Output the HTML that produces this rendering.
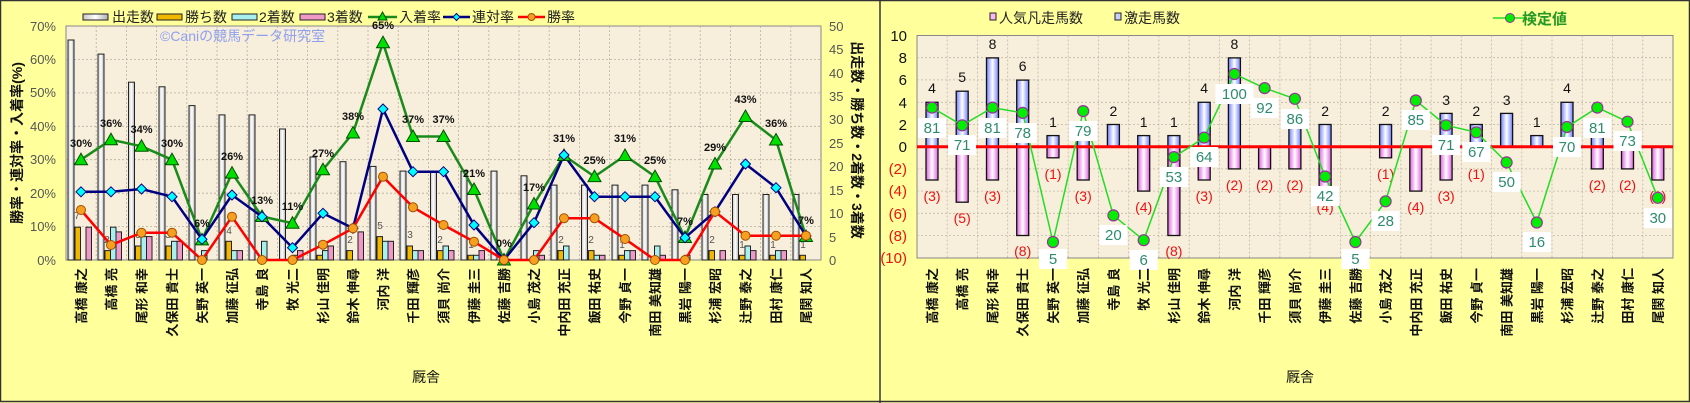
<!DOCTYPE html>
<html><head><meta charset="utf-8"><style>
html,body{margin:0;padding:0;background:#ffff9c;}
svg{display:block;font-family:"Liberation Sans","Noto Sans CJK JP",sans-serif;}
</style></head><body>
<svg width="1690" height="403" viewBox="0 0 1690 403" xmlns="http://www.w3.org/2000/svg">
<defs>
<linearGradient id="gw" x1="0" x2="1"><stop offset="0" stop-color="#c8c8c8"/><stop offset="0.5" stop-color="#ffffff"/><stop offset="1" stop-color="#b0b0b0"/></linearGradient>
<linearGradient id="gb" x1="0" x2="1"><stop offset="0" stop-color="#7080ff"/><stop offset="0.5" stop-color="#ffffff"/><stop offset="1" stop-color="#7080ff"/></linearGradient>
<linearGradient id="gp" x1="0" x2="1"><stop offset="0" stop-color="#e060e0"/><stop offset="0.5" stop-color="#ffffff"/><stop offset="1" stop-color="#e060e0"/></linearGradient>
<path id="tri" d="M0,-6.5 L6.5,5 L-6.5,5 Z" fill="#00e000" stroke="#005000" stroke-width="1"/>
<path id="dia" d="M0,-5 L5,0 L0,5 L-5,0 Z" fill="#00ffff" stroke="#000080" stroke-width="1"/>
<circle id="cir" r="4.5" fill="#f7a020" stroke="#a05000" stroke-width="1"/>
<circle id="gdot" r="5.5" fill="#00ee00" stroke="#993399" stroke-width="1.2"/>
</defs>
<rect x="0.5" y="0.5" width="1689" height="401" fill="#ffff9c" stroke="#333" stroke-width="1.5"/>
<line x1="880" y1="0" x2="880" y2="403" stroke="#333" stroke-width="1.5"/>

<!-- LEFT CHART -->
<rect x="66" y="26" width="755" height="234" fill="#f7eedb" stroke="#888" stroke-width="1"/>
<g stroke="#b8b0a0" stroke-width="0.8" stroke-dasharray="2,2">
<line x1="66" y1="226.6" x2="821" y2="226.6"/><line x1="66" y1="193.2" x2="821" y2="193.2"/><line x1="66" y1="159.7" x2="821" y2="159.7"/><line x1="66" y1="126.3" x2="821" y2="126.3"/><line x1="66" y1="92.9" x2="821" y2="92.9"/><line x1="66" y1="59.4" x2="821" y2="59.4"/>
<line x1="96.2" y1="26" x2="96.2" y2="260"/><line x1="126.4" y1="26" x2="126.4" y2="260"/><line x1="156.6" y1="26" x2="156.6" y2="260"/><line x1="186.8" y1="26" x2="186.8" y2="260"/><line x1="217" y1="26" x2="217" y2="260"/><line x1="247.2" y1="26" x2="247.2" y2="260"/><line x1="277.4" y1="26" x2="277.4" y2="260"/><line x1="307.6" y1="26" x2="307.6" y2="260"/><line x1="337.8" y1="26" x2="337.8" y2="260"/><line x1="368" y1="26" x2="368" y2="260"/><line x1="398.2" y1="26" x2="398.2" y2="260"/><line x1="428.4" y1="26" x2="428.4" y2="260"/><line x1="458.6" y1="26" x2="458.6" y2="260"/><line x1="488.8" y1="26" x2="488.8" y2="260"/><line x1="519" y1="26" x2="519" y2="260"/><line x1="549.2" y1="26" x2="549.2" y2="260"/><line x1="579.4" y1="26" x2="579.4" y2="260"/><line x1="609.6" y1="26" x2="609.6" y2="260"/><line x1="639.8" y1="26" x2="639.8" y2="260"/><line x1="670" y1="26" x2="670" y2="260"/><line x1="700.2" y1="26" x2="700.2" y2="260"/><line x1="730.4" y1="26" x2="730.4" y2="260"/><line x1="760.6" y1="26" x2="760.6" y2="260"/><line x1="790.8" y1="26" x2="790.8" y2="260"/>
</g>
<text x="160" y="41" font-size="14" fill="#8fa0f0">©Caniの競馬データ研究室</text>

<g stroke="#222" stroke-width="1">
<!-- white bars -->
<g fill="url(#gw)">
<rect x="68" y="40" width="6" height="220"/><rect x="98" y="54.1" width="6" height="205.9"/><rect x="128.5" y="82.2" width="6" height="177.8"/><rect x="159" y="86.8" width="6" height="173.2"/><rect x="189" y="105.6" width="6" height="154.4"/><rect x="219" y="114.9" width="6" height="145.1"/><rect x="249" y="114.9" width="6" height="145.1"/><rect x="279.5" y="129" width="6" height="131"/><rect x="310" y="157" width="6" height="103"/><rect x="340" y="161.7" width="6" height="98.3"/><rect x="370" y="166.4" width="6" height="93.6"/><rect x="400" y="171.1" width="6" height="88.9"/><rect x="430.5" y="171.1" width="6" height="88.9"/><rect x="461" y="171.1" width="6" height="88.9"/><rect x="491" y="171.1" width="6" height="88.9"/><rect x="521" y="175.8" width="6" height="84.2"/><rect x="551" y="185.1" width="6" height="74.9"/><rect x="581.5" y="185.1" width="6" height="74.9"/><rect x="612" y="185.1" width="6" height="74.9"/><rect x="642" y="185.1" width="6" height="74.9"/><rect x="672" y="189.8" width="6" height="70.2"/><rect x="702" y="194.5" width="6" height="65.5"/><rect x="732.5" y="194.5" width="6" height="65.5"/><rect x="763" y="194.5" width="6" height="65.5"/><rect x="793" y="194.5" width="6" height="65.5"/>
</g>
<!-- gold -->
<g fill="#f0b800">
<rect x="75" y="227.2" width="5.5" height="32.8"/><rect x="105" y="250.6" width="5.5" height="9.4"/><rect x="135.5" y="246" width="5.5" height="14"/><rect x="166" y="246" width="5.5" height="14"/><rect x="226" y="241.3" width="5.5" height="18.7"/><rect x="317" y="255.3" width="5.5" height="4.7"/><rect x="347" y="250.6" width="5.5" height="9.4"/><rect x="377" y="236.6" width="5.5" height="23.4"/><rect x="407" y="246" width="5.5" height="14"/><rect x="437.5" y="250.6" width="5.5" height="9.4"/><rect x="468" y="255.3" width="5.5" height="4.7"/><rect x="558" y="250.6" width="5.5" height="9.4"/><rect x="588.5" y="250.6" width="5.5" height="9.4"/><rect x="619" y="255.3" width="5.5" height="4.7"/><rect x="709" y="250.6" width="5.5" height="9.4"/><rect x="739.5" y="255.3" width="5.5" height="4.7"/><rect x="770" y="255.3" width="5.5" height="4.7"/><rect x="800" y="255.3" width="5.5" height="4.7"/>
</g>
<!-- cyan -->
<g fill="#a8f0f0">
<rect x="110.5" y="227.2" width="5.5" height="32.8"/><rect x="141" y="236.6" width="5.5" height="23.4"/><rect x="171.5" y="241.3" width="5.5" height="18.7"/><rect x="201.5" y="250.6" width="5.5" height="9.4"/><rect x="231.5" y="250.6" width="5.5" height="9.4"/><rect x="261.5" y="241.3" width="5.5" height="18.7"/><rect x="292" y="255.3" width="5.5" height="4.7"/><rect x="322.5" y="250.6" width="5.5" height="9.4"/><rect x="382.5" y="241.3" width="5.5" height="18.7"/><rect x="412.5" y="250.6" width="5.5" height="9.4"/><rect x="443" y="246" width="5.5" height="14"/><rect x="473.5" y="255.3" width="5.5" height="4.7"/><rect x="533.5" y="250.6" width="5.5" height="9.4"/><rect x="563.5" y="246" width="5.5" height="14"/><rect x="594" y="255.3" width="5.5" height="4.7"/><rect x="624.5" y="250.6" width="5.5" height="9.4"/><rect x="654.5" y="246" width="5.5" height="14"/><rect x="684.5" y="255.3" width="5.5" height="4.7"/><rect x="745" y="246" width="5.5" height="14"/><rect x="775.5" y="250.6" width="5.5" height="9.4"/>
</g>
<!-- pink -->
<g fill="#f098c8">
<rect x="86" y="227.2" width="5.5" height="32.8"/><rect x="116" y="231.9" width="5.5" height="28.1"/><rect x="146.5" y="236.6" width="5.5" height="23.4"/><rect x="177" y="241.3" width="5.5" height="18.7"/><rect x="237" y="250.6" width="5.5" height="9.4"/><rect x="297.5" y="250.6" width="5.5" height="9.4"/><rect x="328" y="246" width="5.5" height="14"/><rect x="358" y="231.9" width="5.5" height="28.1"/><rect x="388" y="241.3" width="5.5" height="18.7"/><rect x="418" y="250.6" width="5.5" height="9.4"/><rect x="448.5" y="250.6" width="5.5" height="9.4"/><rect x="479" y="250.6" width="5.5" height="9.4"/><rect x="539" y="255.3" width="5.5" height="4.7"/><rect x="599.5" y="255.3" width="5.5" height="4.7"/><rect x="630" y="250.6" width="5.5" height="9.4"/><rect x="660" y="255.3" width="5.5" height="4.7"/><rect x="720" y="250.6" width="5.5" height="9.4"/><rect x="750.5" y="250.6" width="5.5" height="9.4"/><rect x="781" y="250.6" width="5.5" height="9.4"/>
</g>
</g>
<g font-size="10" fill="#555" text-anchor="middle">
<text x="77" y="219">7</text><text x="107" y="243">2</text><text x="138" y="238">3</text><text x="168" y="238">3</text><text x="229" y="234">4</text><text x="320" y="248">1</text><text x="350" y="243">2</text><text x="380" y="229">5</text><text x="410" y="238">3</text><text x="440" y="243">2</text><text x="471" y="248">1</text><text x="561" y="243">2</text><text x="591" y="243">2</text><text x="622" y="248">1</text><text x="712" y="243">2</text><text x="742" y="248">1</text><text x="773" y="248">1</text><text x="803" y="248">1</text>
</g>

<!-- lines -->
<polyline fill="none" stroke="#1a8a1a" stroke-width="2.5" points="81,159.7 111,139.7 141.5,146.3 172,159.7 202,239.9 232,173.1 262,216.5 292.5,223.2 323,169.7 353,133 383,42.7 413,136.5 443.5,136.5 474,189.5 504,260 534,204 564,155.5 594.5,176.6 625,155.5 655,176.6 685,237.5 715,164 745.5,116.5 776,140 806,236.5"/>
<polyline fill="none" stroke="#000080" stroke-width="2.5" points="81,191.8 111,191.8 141.5,189 172,196.7 202,239.3 232,195 262,216.7 292.5,247.7 323,213.3 353,228.3 383,109 413,171.7 443.5,171.7 474,225 504,260 534,222.7 564,155 594.5,196.7 625,196.7 655,196.7 685,237.7 715,211.7 745.5,164 776,187.7 806,236"/>
<polyline fill="none" stroke="#ff0000" stroke-width="2.5" points="81,210 111,245 141.5,232.7 172,232.7 202,260 232,216.7 262,260 292.5,260 323,244.7 353,228.3 383,176.7 413,207.3 443.5,225 474,241.7 504,260 534,260 564,218.3 594.5,218.3 625,239 655,260 685,260 715,211.7 745.5,235.7 776,235.7 806,235.7"/>
<g>
<use href="#tri" x="81" y="159.7"/><use href="#tri" x="111" y="139.7"/><use href="#tri" x="141.5" y="146.3"/><use href="#tri" x="172" y="159.7"/><use href="#tri" x="202" y="239.9"/><use href="#tri" x="232" y="173.1"/><use href="#tri" x="262" y="216.5"/><use href="#tri" x="292.5" y="223.2"/><use href="#tri" x="323" y="169.7"/><use href="#tri" x="353" y="133"/><use href="#tri" x="383" y="42.7"/><use href="#tri" x="413" y="136.5"/><use href="#tri" x="443.5" y="136.5"/><use href="#tri" x="474" y="189.5"/><use href="#tri" x="504" y="260"/><use href="#tri" x="534" y="204"/><use href="#tri" x="564" y="155.5"/><use href="#tri" x="594.5" y="176.6"/><use href="#tri" x="625" y="155.5"/><use href="#tri" x="655" y="176.6"/><use href="#tri" x="685" y="237.5"/><use href="#tri" x="715" y="164"/><use href="#tri" x="745.5" y="116.5"/><use href="#tri" x="776" y="140"/><use href="#tri" x="806" y="236.5"/>
<use href="#dia" x="81" y="191.8"/><use href="#dia" x="111" y="191.8"/><use href="#dia" x="141.5" y="189"/><use href="#dia" x="172" y="196.7"/><use href="#dia" x="202" y="239.3"/><use href="#dia" x="232" y="195"/><use href="#dia" x="262" y="216.7"/><use href="#dia" x="292.5" y="247.7"/><use href="#dia" x="323" y="213.3"/><use href="#dia" x="353" y="228.3"/><use href="#dia" x="383" y="109"/><use href="#dia" x="413" y="171.7"/><use href="#dia" x="443.5" y="171.7"/><use href="#dia" x="474" y="225"/><use href="#dia" x="504" y="260"/><use href="#dia" x="534" y="222.7"/><use href="#dia" x="564" y="155"/><use href="#dia" x="594.5" y="196.7"/><use href="#dia" x="625" y="196.7"/><use href="#dia" x="655" y="196.7"/><use href="#dia" x="685" y="237.7"/><use href="#dia" x="715" y="211.7"/><use href="#dia" x="745.5" y="164"/><use href="#dia" x="776" y="187.7"/><use href="#dia" x="806" y="236"/>
<use href="#cir" x="81" y="210"/><use href="#cir" x="111" y="245"/><use href="#cir" x="141.5" y="232.7"/><use href="#cir" x="172" y="232.7"/><use href="#cir" x="202" y="260"/><use href="#cir" x="232" y="216.7"/><use href="#cir" x="262" y="260"/><use href="#cir" x="292.5" y="260"/><use href="#cir" x="323" y="244.7"/><use href="#cir" x="353" y="228.3"/><use href="#cir" x="383" y="176.7"/><use href="#cir" x="413" y="207.3"/><use href="#cir" x="443.5" y="225"/><use href="#cir" x="474" y="241.7"/><use href="#cir" x="504" y="260"/><use href="#cir" x="534" y="260"/><use href="#cir" x="564" y="218.3"/><use href="#cir" x="594.5" y="218.3"/><use href="#cir" x="625" y="239"/><use href="#cir" x="655" y="260"/><use href="#cir" x="685" y="260"/><use href="#cir" x="715" y="211.7"/><use href="#cir" x="745.5" y="235.7"/><use href="#cir" x="776" y="235.7"/><use href="#cir" x="806" y="235.7"/>
</g>
<g font-size="11" font-weight="bold" fill="#111" text-anchor="middle">
<text x="81" y="147">30%</text><text x="111" y="127">36%</text><text x="141.5" y="133">34%</text><text x="172" y="147">30%</text><text x="202" y="227">6%</text><text x="232" y="160">26%</text><text x="262" y="204">13%</text><text x="292.5" y="210">11%</text><text x="323" y="157">27%</text><text x="353" y="120">38%</text><text x="383" y="29">65%</text><text x="413" y="123">37%</text><text x="443.5" y="123">37%</text><text x="474" y="177">21%</text><text x="504" y="247">0%</text><text x="534" y="191">17%</text><text x="564" y="142">31%</text><text x="594.5" y="164">25%</text><text x="625" y="142">31%</text><text x="655" y="164">25%</text><text x="685" y="225">7%</text><text x="715" y="151">29%</text><text x="745.5" y="103">43%</text><text x="776" y="127">36%</text><text x="806" y="224">7%</text>
</g>
<!-- left axis -->
<g font-size="13" fill="#555" text-anchor="end">
<text x="56" y="265">0%</text><text x="56" y="231">10%</text><text x="56" y="198">20%</text><text x="56" y="164">30%</text><text x="56" y="131">40%</text><text x="56" y="97">50%</text><text x="56" y="64">60%</text><text x="56" y="31">70%</text>
</g>
<g font-size="13" fill="#555" text-anchor="start">
<text x="829" y="265">0</text><text x="829" y="242">5</text><text x="829" y="218">10</text><text x="829" y="195">15</text><text x="829" y="171">20</text><text x="829" y="148">25</text><text x="829" y="124">30</text><text x="829" y="101">35</text><text x="829" y="78">40</text><text x="829" y="54">45</text><text x="829" y="31">50</text>
</g>
<text transform="translate(22,143) rotate(-90)" font-size="14" font-weight="bold" fill="#111" text-anchor="middle">勝率・連対率・入着率(%)</text>
<text transform="translate(852,140) rotate(90)" font-size="14" font-weight="bold" fill="#111" text-anchor="middle">出走数・勝ち数・2着数・3着数</text>
<text x="412" y="382" font-size="14" fill="#111">厩舎</text>
<!-- left legend -->
<g font-size="14" fill="#222">
<rect x="83" y="14" width="25" height="6" fill="url(#gw)" stroke="#222"/><text x="112" y="22">出走数</text>
<rect x="157" y="14" width="25" height="6" fill="#f0b800" stroke="#222"/><text x="185" y="22">勝ち数</text>
<rect x="232" y="14" width="25" height="6" fill="#a8f0f0" stroke="#222"/><text x="259" y="22">2着数</text>
<rect x="300" y="14" width="25" height="6" fill="#f098c8" stroke="#222"/><text x="327" y="22">3着数</text>
<line x1="368" y1="17" x2="397" y2="17" stroke="#1a8a1a" stroke-width="2.5"/><path d="M382.5,12 L387,20 L378,20 Z" fill="#00e000" stroke="#005000"/><text x="399" y="22">入着率</text>
<line x1="443" y1="17" x2="470" y2="17" stroke="#000080" stroke-width="2.5"/><path d="M456.5,13.5 L460,17 L456.5,20.5 L453,17 Z" fill="#00ffff" stroke="#000080"/><text x="472" y="22">連対率</text>
<line x1="518" y1="17" x2="545" y2="17" stroke="#ff0000" stroke-width="2.5"/><circle cx="531.5" cy="17" r="3.5" fill="#f7a020" stroke="#a05000"/><text x="547" y="22">勝率</text>
</g>
<g font-size="13" font-weight="bold" fill="#111" text-anchor="end">
<text transform="translate(81,268) rotate(-90)" dy="5">高橋 康之</text><text transform="translate(111,268) rotate(-90)" dy="5">高橋 亮</text><text transform="translate(141.5,268) rotate(-90)" dy="5">尾形 和幸</text><text transform="translate(172,268) rotate(-90)" dy="5">久保田 貴士</text><text transform="translate(202,268) rotate(-90)" dy="5">矢野 英一</text><text transform="translate(232,268) rotate(-90)" dy="5">加藤 征弘</text><text transform="translate(262,268) rotate(-90)" dy="5">寺島 良</text><text transform="translate(292.5,268) rotate(-90)" dy="5">牧 光二</text><text transform="translate(323,268) rotate(-90)" dy="5">杉山 佳明</text><text transform="translate(353,268) rotate(-90)" dy="5">鈴木 伸尋</text><text transform="translate(383,268) rotate(-90)" dy="5">河内 洋</text><text transform="translate(413,268) rotate(-90)" dy="5">千田 輝彦</text><text transform="translate(443.5,268) rotate(-90)" dy="5">須貝 尚介</text><text transform="translate(474,268) rotate(-90)" dy="5">伊藤 圭三</text><text transform="translate(504,268) rotate(-90)" dy="5">佐藤 吉勝</text><text transform="translate(534,268) rotate(-90)" dy="5">小島 茂之</text><text transform="translate(564,268) rotate(-90)" dy="5">中内田 充正</text><text transform="translate(594.5,268) rotate(-90)" dy="5">飯田 祐史</text><text transform="translate(625,268) rotate(-90)" dy="5">今野 貞一</text><text transform="translate(655,268) rotate(-90)" dy="5">南田 美知雄</text><text transform="translate(685,268) rotate(-90)" dy="5">黒岩 陽一</text><text transform="translate(715,268) rotate(-90)" dy="5">杉浦 宏昭</text><text transform="translate(745.5,268) rotate(-90)" dy="5">辻野 泰之</text><text transform="translate(776,268) rotate(-90)" dy="5">田村 康仁</text><text transform="translate(806,268) rotate(-90)" dy="5">尾関 知人</text>
</g>

<!-- RIGHT CHART -->
<rect x="917" y="35.5" width="756" height="222.5" fill="#f7eedb" stroke="#888" stroke-width="1"/>
<g stroke="#c0b8a8" stroke-width="0.8" stroke-dasharray="2,2">
<line x1="917" y1="57.7" x2="1673" y2="57.7"/><line x1="917" y1="79.9" x2="1673" y2="79.9"/><line x1="917" y1="102.3" x2="1673" y2="102.3"/><line x1="917" y1="124.5" x2="1673" y2="124.5"/><line x1="917" y1="168.9" x2="1673" y2="168.9"/><line x1="917" y1="191.1" x2="1673" y2="191.1"/><line x1="917" y1="213.3" x2="1673" y2="213.3"/><line x1="917" y1="235.5" x2="1673" y2="235.5"/>
<line x1="947.2" y1="35.5" x2="947.2" y2="258"/><line x1="977.5" y1="35.5" x2="977.5" y2="258"/><line x1="1007.7" y1="35.5" x2="1007.7" y2="258"/><line x1="1038" y1="35.5" x2="1038" y2="258"/><line x1="1068.2" y1="35.5" x2="1068.2" y2="258"/><line x1="1098.4" y1="35.5" x2="1098.4" y2="258"/><line x1="1128.7" y1="35.5" x2="1128.7" y2="258"/><line x1="1158.9" y1="35.5" x2="1158.9" y2="258"/><line x1="1189.2" y1="35.5" x2="1189.2" y2="258"/><line x1="1219.4" y1="35.5" x2="1219.4" y2="258"/><line x1="1249.6" y1="35.5" x2="1249.6" y2="258"/><line x1="1279.9" y1="35.5" x2="1279.9" y2="258"/><line x1="1310.1" y1="35.5" x2="1310.1" y2="258"/><line x1="1340.4" y1="35.5" x2="1340.4" y2="258"/><line x1="1370.6" y1="35.5" x2="1370.6" y2="258"/><line x1="1400.8" y1="35.5" x2="1400.8" y2="258"/><line x1="1431.1" y1="35.5" x2="1431.1" y2="258"/><line x1="1461.3" y1="35.5" x2="1461.3" y2="258"/><line x1="1491.6" y1="35.5" x2="1491.6" y2="258"/><line x1="1521.8" y1="35.5" x2="1521.8" y2="258"/><line x1="1552" y1="35.5" x2="1552" y2="258"/><line x1="1582.3" y1="35.5" x2="1582.3" y2="258"/><line x1="1612.5" y1="35.5" x2="1612.5" y2="258"/><line x1="1642.8" y1="35.5" x2="1642.8" y2="258"/>
</g>
<g stroke="#111" stroke-width="1.3">
<g fill="url(#gb)">
<rect x="926" y="102.3" width="12" height="44.4"/><rect x="956.2" y="91.2" width="12" height="55.5"/><rect x="986.5" y="57.9" width="12" height="88.8"/><rect x="1016.7" y="80.1" width="12" height="66.6"/><rect x="1047" y="135.6" width="12" height="11.1"/><rect x="1077.2" y="124.5" width="12" height="22.2"/><rect x="1107.4" y="124.5" width="12" height="22.2"/><rect x="1137.7" y="135.6" width="12" height="11.1"/><rect x="1167.9" y="135.6" width="12" height="11.1"/><rect x="1198.2" y="102.3" width="12" height="44.4"/><rect x="1228.4" y="57.9" width="12" height="88.8"/><rect x="1288.9" y="113.4" width="12" height="33.3"/><rect x="1319.1" y="124.5" width="12" height="22.2"/><rect x="1379.6" y="124.5" width="12" height="22.2"/><rect x="1440.1" y="113.4" width="12" height="33.3"/><rect x="1470.3" y="124.5" width="12" height="22.2"/><rect x="1500.6" y="113.4" width="12" height="33.3"/><rect x="1530.8" y="135.6" width="12" height="11.1"/><rect x="1561" y="102.3" width="12" height="44.4"/><rect x="1591.3" y="135.6" width="12" height="11.1"/>
</g>
<g fill="url(#gp)">
<rect x="926" y="146.7" width="12" height="33.3"/><rect x="956.2" y="146.7" width="12" height="55.5"/><rect x="986.5" y="146.7" width="12" height="33.3"/><rect x="1016.7" y="146.7" width="12" height="88.8"/><rect x="1047" y="146.7" width="12" height="11.1"/><rect x="1077.2" y="146.7" width="12" height="33.3"/><rect x="1137.7" y="146.7" width="12" height="44.4"/><rect x="1167.9" y="146.7" width="12" height="88.8"/><rect x="1198.2" y="146.7" width="12" height="33.3"/><rect x="1228.4" y="146.7" width="12" height="22.2"/><rect x="1258.6" y="146.7" width="12" height="22.2"/><rect x="1288.9" y="146.7" width="12" height="22.2"/><rect x="1319.1" y="146.7" width="12" height="44.4"/><rect x="1379.6" y="146.7" width="12" height="11.1"/><rect x="1409.8" y="146.7" width="12" height="44.4"/><rect x="1440.1" y="146.7" width="12" height="33.3"/><rect x="1470.3" y="146.7" width="12" height="11.1"/><rect x="1591.3" y="146.7" width="12" height="22.2"/><rect x="1621.5" y="146.7" width="12" height="22.2"/><rect x="1651.8" y="146.7" width="12" height="33.3"/>
</g>
</g>
<line x1="917" y1="146.7" x2="1673" y2="146.7" stroke="#ff0000" stroke-width="3"/>
<g font-size="14" fill="#111" text-anchor="middle">
<text x="932" y="93">4</text><text x="962.2" y="82">5</text><text x="992.5" y="49">8</text><text x="1022.7" y="71">6</text><text x="1053" y="127">1</text><text x="1083.2" y="116">2</text><text x="1113.4" y="116">2</text><text x="1143.7" y="127">1</text><text x="1173.9" y="127">1</text><text x="1204.2" y="93">4</text><text x="1234.4" y="49">8</text><text x="1325.1" y="116">2</text><text x="1385.6" y="116">2</text><text x="1446.1" y="105">3</text><text x="1476.3" y="116">2</text><text x="1506.6" y="105">3</text><text x="1536.8" y="127">1</text><text x="1567" y="93">4</text>
</g>
<g font-size="14" fill="#ee1111" text-anchor="middle">
<text x="932" y="201">(3)</text><text x="962.2" y="223">(5)</text><text x="992.5" y="201">(3)</text><text x="1022.7" y="256">(8)</text><text x="1053" y="179">(1)</text><text x="1083.2" y="201">(3)</text><text x="1143.7" y="212">(4)</text><text x="1173.9" y="256">(8)</text><text x="1204.2" y="201">(3)</text><text x="1234.4" y="190">(2)</text><text x="1264.6" y="190">(2)</text><text x="1294.9" y="190">(2)</text><text x="1325.1" y="212">(4)</text><text x="1385.6" y="179">(1)</text><text x="1415.8" y="212">(4)</text><text x="1446.1" y="201">(3)</text><text x="1476.3" y="179">(1)</text><text x="1597.3" y="190">(2)</text><text x="1627.5" y="190">(2)</text><text x="1657.8" y="201">(3)</text>
</g>
<polyline fill="none" stroke="#22dd22" stroke-width="1.5" points="932,107.6 962.2,125.3 992.5,107.6 1022.7,112.9 1053,242 1083.2,111.1 1113.4,215.4 1143.7,240.2 1173.9,157.1 1204.2,137.6 1234.4,74 1264.6,88.1 1294.9,98.8 1325.1,176.5 1355.4,242 1385.6,201.3 1415.8,100.5 1446.1,125.3 1476.3,132.3 1506.6,162.4 1536.8,222.5 1567,127 1597.3,107.6 1627.5,121.7 1657.8,197.8"/>
<g>
<use href="#gdot" x="932" y="107.6"/><use href="#gdot" x="962.2" y="125.3"/><use href="#gdot" x="992.5" y="107.6"/><use href="#gdot" x="1022.7" y="112.9"/><use href="#gdot" x="1053" y="242"/><use href="#gdot" x="1083.2" y="111.1"/><use href="#gdot" x="1113.4" y="215.4"/><use href="#gdot" x="1143.7" y="240.2"/><use href="#gdot" x="1173.9" y="157.1"/><use href="#gdot" x="1204.2" y="137.6"/><use href="#gdot" x="1234.4" y="74"/><use href="#gdot" x="1264.6" y="88.1"/><use href="#gdot" x="1294.9" y="98.8"/><use href="#gdot" x="1325.1" y="176.5"/><use href="#gdot" x="1355.4" y="242"/><use href="#gdot" x="1385.6" y="201.3"/><use href="#gdot" x="1415.8" y="100.5"/><use href="#gdot" x="1446.1" y="125.3"/><use href="#gdot" x="1476.3" y="132.3"/><use href="#gdot" x="1506.6" y="162.4"/><use href="#gdot" x="1536.8" y="222.5"/><use href="#gdot" x="1567" y="127"/><use href="#gdot" x="1597.3" y="107.6"/><use href="#gdot" x="1627.5" y="121.7"/><use href="#gdot" x="1657.8" y="197.8"/>
</g>
<g fill="#ffffff">
<rect x="918" y="118" width="28" height="20"/><rect x="948" y="135" width="28" height="20"/><rect x="978.5" y="118" width="28" height="20"/><rect x="1008.7" y="123" width="28" height="20"/><rect x="1039" y="249" width="28" height="20"/><rect x="1069.2" y="121" width="28" height="20"/><rect x="1099.4" y="225" width="28" height="20"/><rect x="1129.7" y="250" width="28" height="20"/><rect x="1159.9" y="167" width="28" height="20"/><rect x="1190.2" y="147" width="28" height="20"/><rect x="1215.4" y="84" width="38" height="20"/><rect x="1250.6" y="98" width="28" height="20"/><rect x="1280.9" y="109" width="28" height="20"/><rect x="1311.1" y="186" width="28" height="20"/><rect x="1341.4" y="249" width="28" height="20"/><rect x="1371.6" y="211" width="28" height="20"/><rect x="1401.8" y="110" width="28" height="20"/><rect x="1432.1" y="135" width="28" height="20"/><rect x="1462.3" y="142" width="28" height="20"/><rect x="1492.6" y="172" width="28" height="20"/><rect x="1522.8" y="232" width="28" height="20"/><rect x="1553" y="137" width="28" height="20"/><rect x="1583.3" y="118" width="28" height="20"/><rect x="1613.5" y="131" width="28" height="20"/><rect x="1643.8" y="208" width="28" height="20"/>
</g>
<g font-size="15" fill="#2e8b6e" text-anchor="middle">
<text x="932" y="133">81</text><text x="962.2" y="150">71</text><text x="992.5" y="133">81</text><text x="1022.7" y="138">78</text><text x="1053" y="264">5</text><text x="1083.2" y="136">79</text><text x="1113.4" y="240">20</text><text x="1143.7" y="265">6</text><text x="1173.9" y="182">53</text><text x="1204.2" y="162">64</text><text x="1234.4" y="99">100</text><text x="1264.6" y="113">92</text><text x="1294.9" y="124">86</text><text x="1325.1" y="201">42</text><text x="1355.4" y="264">5</text><text x="1385.6" y="226">28</text><text x="1415.8" y="125">85</text><text x="1446.1" y="150">71</text><text x="1476.3" y="157">67</text><text x="1506.6" y="187">50</text><text x="1536.8" y="247">16</text><text x="1567" y="152">70</text><text x="1597.3" y="133">81</text><text x="1627.5" y="146">73</text><text x="1657.8" y="223">30</text>
</g>
<!-- right axis labels -->
<g font-size="15" text-anchor="end">
<g fill="#111"><text x="907" y="41">10</text><text x="907" y="63">8</text><text x="907" y="85">6</text><text x="907" y="108">4</text><text x="907" y="130">2</text><text x="907" y="152">0</text></g>
<g fill="#ee1111"><text x="907" y="174">(2)</text><text x="907" y="196">(4)</text><text x="907" y="219">(6)</text><text x="907" y="241">(8)</text><text x="907" y="263">(10)</text></g>
</g>
<text x="1286" y="382" font-size="14" fill="#111">厩舎</text>
<g font-size="14" fill="#222">
<rect x="990" y="13" width="6" height="7" fill="#f8b8f0" stroke="#222"/><text x="999" y="23">人気凡走馬数</text>
<rect x="1115" y="13" width="6" height="7" fill="#c8d0ff" stroke="#222"/><text x="1124" y="23">激走馬数</text>
<line x1="1493" y1="18" x2="1527" y2="18" stroke="#22dd22" stroke-width="1.5"/><circle cx="1510" cy="18" r="4.5" fill="#00ee00" stroke="#993399"/>
<text x="1522" y="24" font-size="15" font-weight="bold" fill="#229922">検定値</text>
</g>
<g font-size="13" font-weight="bold" fill="#111" text-anchor="end">
<text transform="translate(932,268) rotate(-90)" dy="5">高橋 康之</text><text transform="translate(962.2,268) rotate(-90)" dy="5">高橋 亮</text><text transform="translate(992.5,268) rotate(-90)" dy="5">尾形 和幸</text><text transform="translate(1022.7,268) rotate(-90)" dy="5">久保田 貴士</text><text transform="translate(1053,268) rotate(-90)" dy="5">矢野 英一</text><text transform="translate(1083.2,268) rotate(-90)" dy="5">加藤 征弘</text><text transform="translate(1113.4,268) rotate(-90)" dy="5">寺島 良</text><text transform="translate(1143.7,268) rotate(-90)" dy="5">牧 光二</text><text transform="translate(1173.9,268) rotate(-90)" dy="5">杉山 佳明</text><text transform="translate(1204.2,268) rotate(-90)" dy="5">鈴木 伸尋</text><text transform="translate(1234.4,268) rotate(-90)" dy="5">河内 洋</text><text transform="translate(1264.6,268) rotate(-90)" dy="5">千田 輝彦</text><text transform="translate(1294.9,268) rotate(-90)" dy="5">須貝 尚介</text><text transform="translate(1325.1,268) rotate(-90)" dy="5">伊藤 圭三</text><text transform="translate(1355.4,268) rotate(-90)" dy="5">佐藤 吉勝</text><text transform="translate(1385.6,268) rotate(-90)" dy="5">小島 茂之</text><text transform="translate(1415.8,268) rotate(-90)" dy="5">中内田 充正</text><text transform="translate(1446.1,268) rotate(-90)" dy="5">飯田 祐史</text><text transform="translate(1476.3,268) rotate(-90)" dy="5">今野 貞一</text><text transform="translate(1506.6,268) rotate(-90)" dy="5">南田 美知雄</text><text transform="translate(1536.8,268) rotate(-90)" dy="5">黒岩 陽一</text><text transform="translate(1567,268) rotate(-90)" dy="5">杉浦 宏昭</text><text transform="translate(1597.3,268) rotate(-90)" dy="5">辻野 泰之</text><text transform="translate(1627.5,268) rotate(-90)" dy="5">田村 康仁</text><text transform="translate(1657.8,268) rotate(-90)" dy="5">尾関 知人</text>
</g>
</svg>
</body></html>
